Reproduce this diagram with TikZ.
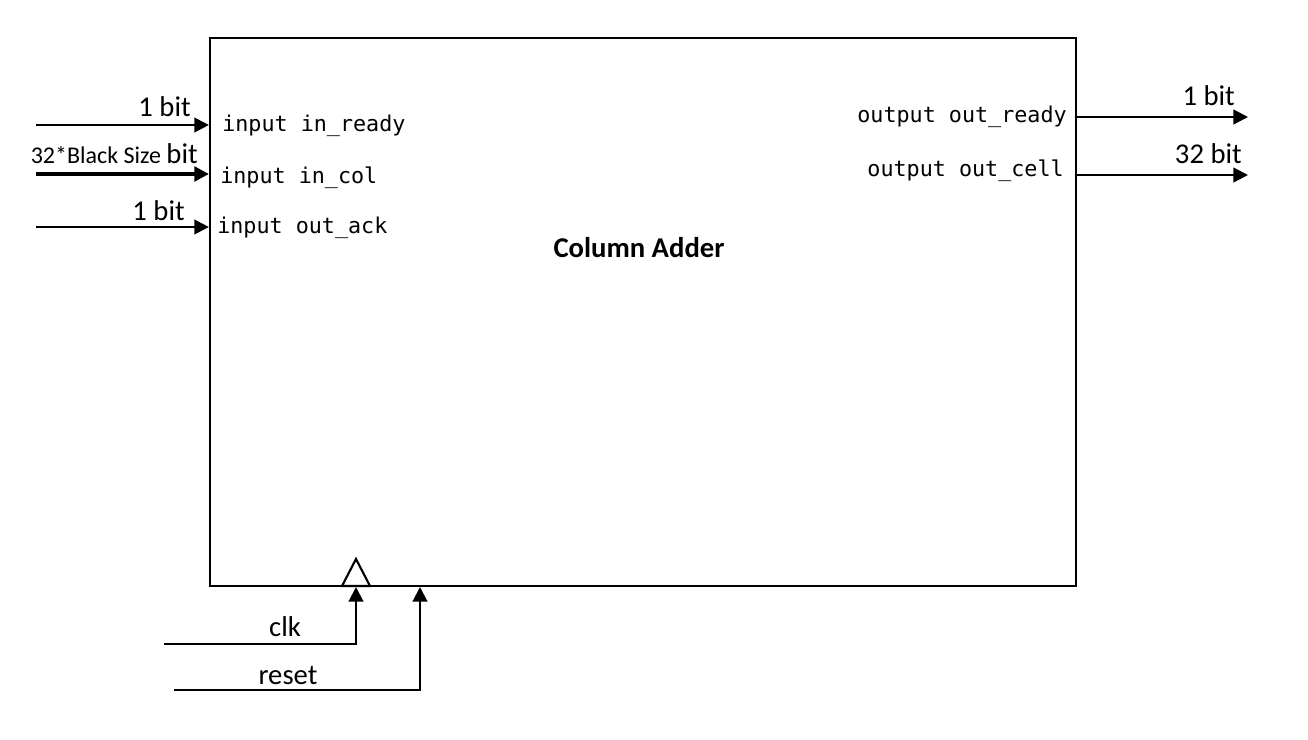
\documentclass[tikz,border=0pt]{standalone}
\usepackage{fontspec}
\setmainfont{Carlito}
\setmonofont{DejaVu Sans Mono}
\usetikzlibrary{arrows.meta}
\begin{document}
\begin{tikzpicture}[x=0.75pt,y=-0.75pt,
  wire/.style={line width=1.6pt,-{Triangle[length=11pt,width=11pt]}},
  bus/.style={line width=2.6pt,-{Triangle[length=11pt,width=11pt]}},
  lbl/.style={inner sep=0pt,font=\fontsize{21.5}{25}\selectfont},
  port/.style={inner sep=0pt,font=\ttfamily\fontsize{16.3}{20}\selectfont},
  title/.style={inner sep=0pt,font=\bfseries\fontsize{21.5}{26}\selectfont}]
\useasboundingbox (0,0) rectangle (1308,739);
\fill[white] (0,0) rectangle (1308,739);
% block
\node[draw,line width=1.6pt,minimum width=649.5pt,minimum height=411pt,inner sep=0pt] (blk) at (643,312) {};
\node[title,anchor=base] (name) at (639,257) {Column Adder};
% clock triangle
\coordinate (tl) at (342,586);
\coordinate (tr) at (370,586);
\coordinate (ta) at (356,559);
\draw[line width=1.6pt,line join=miter,fill=white] (tl) -- (ta) -- (tr) -- cycle;
% inputs
\coordinate (i1) at (36,125);
\coordinate (i2) at (36,174);
\coordinate (i3) at (36,227);
\draw[wire] (i1) -- (i1 -| blk.west);
\draw[bus] (i2) -- (i2 -| blk.west);
\draw[wire] (i3) -- (i3 -| blk.west);
\node[lbl,anchor=base east] (l1) at (191,116) {1 bit};
\node[anchor=base east,inner sep=0pt] (l2) at (198,163) {{\fontsize{18}{22}\selectfont 32*Black Size }{\fontsize{21.5}{25}\selectfont bit}};
\node[lbl,anchor=base east] (l3) at (185,220) {1 bit};
\node[port,anchor=base west] (p1) at (222,131) {input in\_ready};
\node[port,anchor=base west] (p2) at (220,183) {input in\_col};
\node[port,anchor=base west] (p3) at (217,233) {input out\_ack};
% outputs
\coordinate (o1) at (1248,117);
\coordinate (o2) at (1248,175);
\draw[wire] (o1 -| blk.east) -- (o1);
\draw[wire] (o2 -| blk.east) -- (o2);
\node[port,anchor=base east] (q1) at (1067,122) {output out\_ready};
\node[port,anchor=base east] (q2) at (1064,176) {output out\_cell};
\node[lbl,anchor=base east] (r1) at (1235,105) {1 bit};
\node[lbl,anchor=base east] (r2) at (1242,163) {32 bit};
% clk and reset
\coordinate (c0) at (164,644);
\coordinate (cx) at (356,644);
\coordinate (ct) at (356,587);
\draw[wire,line join=miter] (c0) -- (cx) -- (ct);
\node[lbl,anchor=base] (clk) at (285,636) {clk};
\coordinate (r0) at (174,690);
\coordinate (rx) at (420,690);
\coordinate (rt) at (420,587);
\draw[wire,line join=miter] (r0) -- (rx) -- (rt);
\node[lbl,anchor=base] (rst) at (288,684) {reset};
\end{tikzpicture}
\end{document}
